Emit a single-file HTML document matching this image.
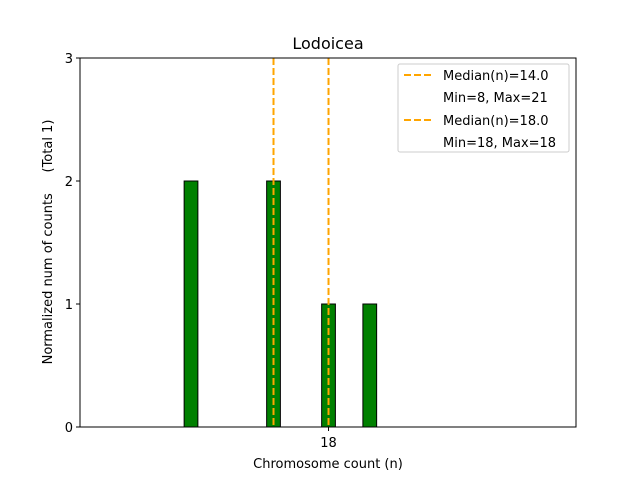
<!DOCTYPE html>
<html><head><meta charset="utf-8"><style>body{margin:0;background:#fff}svg{display:block;font-family:"DejaVu Sans","Liberation Sans",sans-serif}</style></head>
<body>
<svg id="chart" width="640" height="480" viewBox="0 0 640 480">
<rect width="640" height="480" fill="#fff"/>
<text x="328" y="49" font-size="16" text-anchor="middle">Lodoicea</text>
<g id="bars"></g>
<g id="medians"></g>
<rect x="80" y="58" width="496" height="369" fill="none" stroke="#000" stroke-width="1"/>
<g id="yticks"></g>
<g id="xticks"></g>
<text x="328" y="468" font-size="13" text-anchor="middle">Chromosome count (n)</text>
<text transform="translate(52,242) rotate(-90)" font-size="13" text-anchor="middle" style="white-space:pre" xml:space="preserve">Normalized num of counts     (Total 1)</text>
<g>
<rect x="398" y="64" width="171" height="88" fill="#fff" stroke="#ccc" rx="2"/>
<line x1="404" y1="75" x2="432" y2="75" stroke="#ffa500" stroke-width="2" stroke-dasharray="7,3"/>
<text x="443" y="80" font-size="13">Median(n)=14.0</text>
<text x="443" y="102" font-size="13">Min=8, Max=21</text>
<line x1="404" y1="120" x2="432" y2="120" stroke="#ffa500" stroke-width="2" stroke-dasharray="7,3"/>
<text x="443" y="125" font-size="13">Median(n)=18.0</text>
<text x="443" y="147" font-size="13">Min=18, Max=18</text>
</g>
</svg>
<script>
const binCenters = [8, 14, 18, 21];
const binCounts = [2, 2, 1, 1];
const medianValues = [14, 18];
const yTickValues = [0, 1, 2, 3];
const xTickValues = [18];
const NS = "http://www.w3.org/2000/svg";
const xs = v => 81 + (v - 0) * (496 / 36.07);
const ys = v => 427 - v * 123;
function mk(tag, attrs, parent){const e=document.createElementNS(NS,tag);for(const k in attrs)e.setAttribute(k,attrs[k]);parent.appendChild(e);return e;}
const gb = document.getElementById('bars');
binCenters.forEach((c,i)=>{
  const r = mk('rect',{x:xs(c-0.5),y:ys(binCounts[i]),width:xs(c+0.5)-xs(c-0.5),height:ys(0)-ys(binCounts[i]),fill:'#008000',stroke:'#000','stroke-width':1},gb);
  
  
});
const gm = document.getElementById('medians');
medianValues.forEach(m=>{
  const l = mk('line',{x1:xs(m),x2:xs(m),y1:58,y2:427,stroke:'#ffa500','stroke-width':2,'stroke-dasharray':'7,3'},gm);
  
  
});
const gy = document.getElementById('yticks');
yTickValues.forEach(v=>{
  const t = mk('line',{x1:76,x2:80,y1:ys(v),y2:ys(v),stroke:'#000'},gy);
  
  
  const tx = mk('text',{x:73,y:ys(v)+5,'font-size':13,'text-anchor':'end'},gy);
  tx.textContent = v;
  
  
});
const gx = document.getElementById('xticks');
xTickValues.forEach(v=>{
  const t = mk('line',{x1:xs(v),x2:xs(v),y1:427,y2:431,stroke:'#000'},gx);
  
  
  const tx = mk('text',{x:xs(v),y:447,'font-size':13,'text-anchor':'middle'},gx);
  tx.textContent = v;
  
  
});
</script>
</body></html>
